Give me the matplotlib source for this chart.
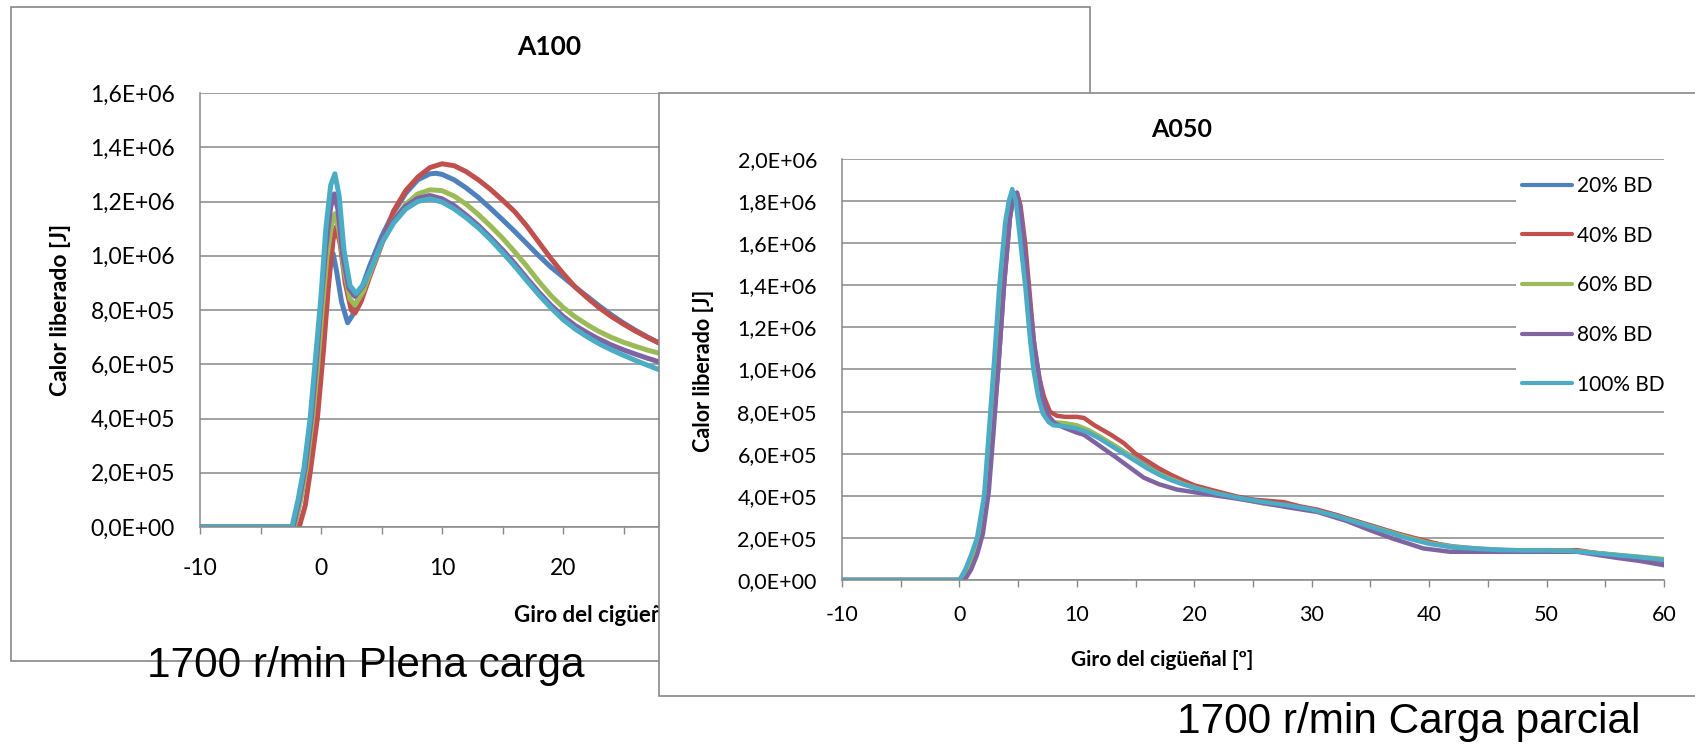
import numpy as np
import matplotlib
matplotlib.use("Agg")
import matplotlib.pyplot as plt
from matplotlib.patches import Rectangle
from matplotlib.ticker import MultipleLocator, FuncFormatter

# Calor liberado frente al giro del cigüeñal, dos gráficos superpuestos
series_labels = ["20% BD", "40% BD", "60% BD", "80% BD", "100% BD"]
series_colors = ["#4F81BD", "#C0504D", "#9BBB59", "#8064A2", "#4BACC6"]

# A100 - plena carga: (grados, calor en MJ)
a100_20 = [(-10, 0), (-2.2, 0), (-1.7, 0.1), (-1.2, 0.22), (-0.7, 0.4), (-0.2, 0.62), (0.3, 0.85),
           (0.7, 0.97), (1.0, 1.008), (1.3, 0.94), (1.7, 0.83), (2.2, 0.753), (2.6, 0.78), (3.2, 0.86),
           (4, 0.96), (5, 1.07), (6, 1.16), (7, 1.23), (8, 1.28), (9, 1.302), (9.5, 1.304), (10, 1.3),
           (11, 1.28), (12, 1.25), (13, 1.215), (14, 1.175), (15, 1.133), (16, 1.09), (17, 1.045),
           (18, 1.0), (19, 0.958), (20, 0.922), (21, 0.885), (22, 0.85), (23, 0.815), (24, 0.782),
           (25, 0.752), (26, 0.725), (27, 0.7), (28, 0.677), (29, 0.656), (30, 0.636)]
a100_40 = [(-10, 0), (-1.8, 0), (-1.3, 0.08), (-0.9, 0.2), (-0.3, 0.4), (0.2, 0.65), (0.6, 0.88),
           (1.0, 1.06), (1.25, 1.106), (1.6, 1.04), (2.0, 0.9), (2.5, 0.8), (2.8, 0.788), (3.3, 0.83),
           (4, 0.92), (5, 1.04), (6, 1.165), (7, 1.24), (8, 1.29), (9, 1.325), (10, 1.339), (11, 1.332),
           (12, 1.31), (13, 1.28), (14, 1.245), (15, 1.205), (16, 1.163), (17, 1.11), (18, 1.05),
           (19, 0.99), (20, 0.935), (21, 0.885), (22, 0.845), (23, 0.808), (24, 0.776), (25, 0.748),
           (26, 0.722), (27, 0.699), (28, 0.677), (29, 0.658), (30, 0.64)]
a100_60 = [(-10, 0), (-2.2, 0), (-1.7, 0.1), (-1.2, 0.22), (-0.7, 0.4), (-0.3, 0.58), (0.1, 0.8),
           (0.5, 1.0), (0.9, 1.12), (1.15, 1.155), (1.5, 1.09), (1.9, 0.95), (2.4, 0.84), (2.8, 0.818),
           (3.5, 0.87), (4, 0.93), (5, 1.045), (6, 1.13), (7, 1.19), (8, 1.228), (9, 1.243), (10, 1.24),
           (11, 1.22), (12, 1.19), (13, 1.152), (14, 1.11), (15, 1.065), (16, 1.015), (17, 0.962),
           (18, 0.905), (19, 0.853), (20, 0.81), (21, 0.775), (22, 0.746), (23, 0.72), (24, 0.699),
           (25, 0.681), (26, 0.666), (27, 0.652), (28, 0.64), (29, 0.628), (30, 0.617)]
a100_80 = [(-10, 0), (-2.3, 0), (-1.8, 0.1), (-1.3, 0.22), (-0.8, 0.4), (-0.4, 0.6), (0.0, 0.82),
           (0.4, 1.03), (0.8, 1.18), (1.1, 1.228), (1.4, 1.17), (1.8, 1.0), (2.3, 0.88), (2.8, 0.85),
           (3.5, 0.89), (4, 0.945), (5, 1.055), (6, 1.13), (7, 1.183), (8, 1.212), (9, 1.222), (10, 1.21),
           (11, 1.185), (12, 1.15), (13, 1.112), (14, 1.068), (15, 1.022), (16, 0.972), (17, 0.918),
           (18, 0.866), (19, 0.818), (20, 0.777), (21, 0.743), (22, 0.716), (23, 0.692), (24, 0.671),
           (25, 0.653), (26, 0.637), (27, 0.622), (28, 0.608), (29, 0.595), (30, 0.583)]
a100_100 = [(-10, 0), (-2.4, 0), (-1.9, 0.1), (-1.4, 0.22), (-0.9, 0.4), (-0.5, 0.6), (0.0, 0.85),
            (0.4, 1.1), (0.8, 1.26), (1.15, 1.302), (1.5, 1.22), (1.9, 1.02), (2.4, 0.89), (2.9, 0.861),
            (3.5, 0.895), (4, 0.94), (5, 1.045), (6, 1.12), (7, 1.172), (8, 1.2), (9, 1.21), (10, 1.198),
            (11, 1.173), (12, 1.14), (13, 1.103), (14, 1.06), (15, 1.012), (16, 0.962), (17, 0.908),
            (18, 0.856), (19, 0.808), (20, 0.765), (21, 0.73), (22, 0.701), (23, 0.675), (24, 0.653),
            (25, 0.633), (26, 0.614), (27, 0.596), (28, 0.579), (29, 0.564), (30, 0.55)]

# A050 - carga parcial: (grados, calor en MJ)
a050_20 = [(-10, 0), (0.2, 0), (0.7, 0.05), (1.2, 0.12), (1.7, 0.21), (2.2, 0.42), (2.6, 0.72),
           (3.0, 1.0), (3.5, 1.4), (4.0, 1.7), (4.4, 1.8), (4.7, 1.83), (5.0, 1.77), (5.4, 1.58),
           (5.8, 1.36), (6.2, 1.12), (6.6, 0.96), (7.0, 0.85), (7.5, 0.77), (8.0, 0.745), (9, 0.74),
           (10, 0.73), (11, 0.71), (12, 0.678), (13, 0.645), (14, 0.61), (15, 0.575), (16, 0.54),
           (17, 0.51), (18, 0.485), (19, 0.462), (20, 0.443), (22, 0.414), (24, 0.39), (26, 0.372),
           (28, 0.356), (30, 0.337), (32, 0.31), (34, 0.277), (36, 0.243), (38, 0.208), (40, 0.178),
           (42, 0.16), (44, 0.15), (46, 0.144), (48, 0.141), (50, 0.14), (52, 0.139), (54, 0.129),
           (56, 0.117), (58, 0.105), (60, 0.09)]
a050_40 = [(-10, 0), (0.4, 0), (0.9, 0.05), (1.4, 0.12), (1.9, 0.22), (2.4, 0.42), (2.9, 0.75),
           (3.3, 1.0), (3.8, 1.4), (4.3, 1.72), (4.6, 1.82), (4.9, 1.84), (5.2, 1.78), (5.6, 1.6),
           (6.0, 1.35), (6.4, 1.1), (6.8, 0.96), (7.2, 0.87), (7.7, 0.8), (8.3, 0.78), (9, 0.775),
           (10, 0.775), (10.6, 0.77), (11.5, 0.735), (12.9, 0.69), (14, 0.65), (15, 0.6), (16, 0.565),
           (17, 0.53), (18, 0.5), (19, 0.474), (20, 0.45), (22, 0.42), (23.6, 0.397), (25, 0.382),
           (27.6, 0.37), (29, 0.35), (30.5, 0.334), (32, 0.31), (34.4, 0.268), (37, 0.225),
           (39.5, 0.189), (41.8, 0.157), (43.5, 0.148), (45.2, 0.142), (48, 0.14), (50, 0.14),
           (52.6, 0.142), (54, 0.13), (56, 0.118), (58, 0.105), (60, 0.094)]
a050_60 = [(-10, 0), (0.3, 0), (0.8, 0.05), (1.3, 0.12), (1.8, 0.21), (2.3, 0.42), (2.7, 0.72),
           (3.1, 1.0), (3.6, 1.4), (4.1, 1.72), (4.4, 1.8), (4.7, 1.83), (5.0, 1.78), (5.4, 1.6),
           (5.8, 1.38), (6.2, 1.13), (6.6, 0.97), (7.0, 0.86), (7.5, 0.78), (8.0, 0.75), (9, 0.745),
           (10, 0.735), (11, 0.712), (12, 0.68), (13, 0.645), (14, 0.61), (15, 0.57), (16, 0.535),
           (17, 0.505), (18, 0.48), (19, 0.458), (20, 0.44), (22, 0.41), (24, 0.385), (26, 0.362),
           (28, 0.35), (30, 0.332), (32, 0.305), (34, 0.272), (36, 0.238), (38, 0.205), (40, 0.175),
           (42, 0.158), (44, 0.148), (46, 0.142), (48, 0.14), (50, 0.14), (52, 0.14), (54, 0.13),
           (56, 0.12), (58, 0.11), (60, 0.1)]
a050_80 = [(-10, 0), (0.45, 0), (1.0, 0.05), (1.5, 0.12), (2.0, 0.22), (2.5, 0.42), (2.9, 0.7),
           (3.3, 1.0), (3.8, 1.4), (4.3, 1.72), (4.6, 1.82), (4.9, 1.84), (5.2, 1.76), (5.5, 1.6),
           (5.85, 1.4), (6.3, 1.15), (6.7, 1.0), (7.1, 0.86), (7.6, 0.78), (8.1, 0.745), (8.9, 0.724),
           (10, 0.7), (10.6, 0.69), (12, 0.635), (13.4, 0.58), (14.5, 0.535), (15.7, 0.486),
           (17, 0.455), (18.5, 0.43), (20, 0.417), (22, 0.4), (23.7, 0.386), (26, 0.365), (28, 0.345),
           (30.5, 0.323), (33, 0.28), (35, 0.236), (37, 0.195), (39.5, 0.15), (41.8, 0.134),
           (45, 0.134), (50, 0.134), (52.6, 0.134), (54, 0.122), (56, 0.105), (58, 0.09), (60, 0.07)]
a050_100 = [(-10, 0), (0.0, 0), (0.5, 0.05), (1.0, 0.12), (1.5, 0.2), (2.1, 0.4), (2.5, 0.7),
            (2.9, 1.0), (3.4, 1.4), (3.9, 1.7), (4.2, 1.8), (4.5, 1.857), (4.8, 1.8), (5.2, 1.6),
            (5.6, 1.4), (6.0, 1.15), (6.3, 1.0), (6.7, 0.87), (7.1, 0.79), (7.6, 0.75), (8.0, 0.735),
            (9, 0.73), (10, 0.72), (11, 0.7), (12, 0.67), (13, 0.635), (14, 0.6), (15, 0.565),
            (16, 0.53), (17, 0.5), (18, 0.475), (19, 0.455), (20, 0.438), (22, 0.41), (24, 0.388),
            (26, 0.37), (28, 0.355), (30, 0.335), (32, 0.305), (34, 0.27), (36, 0.235), (38, 0.2),
            (40, 0.172), (42, 0.155), (44, 0.148), (46, 0.142), (48, 0.14), (50, 0.14), (52, 0.138),
            (54, 0.128), (56, 0.118), (58, 0.108), (60, 0.095)]

a100_series = [a100_20, a100_40, a100_60, a100_80, a100_100]
a050_series = [a050_20, a050_40, a050_60, a050_80, a050_100]

W, H = 1695, 744
GRAY = "#888888"

plt.rcParams['font.family'] = ['Lato', 'DejaVu Sans']
plt.rcParams['axes.unicode_minus'] = False


def px_rect(x0, y0, x1, y1):
    """Pixel box (top-left origin) -> figure fraction rect"""
    return [x0 / W, 1 - y1 / H, (x1 - x0) / W, (y1 - y0) / H]


def sci_comma(v, pos):
    return f"{v:.1E}".replace(".", ",")


def draw_chart(ax, series, ymax, title, fs, lw, title_xy, ylabel_xy, xlabel_xy, xpad, legend_xy,
               last_xlabel=60):
    for data, color, label in zip(series, series_colors, series_labels):
        deg, mj = zip(*data)
        ax.plot(deg, np.array(mj) * 1e6, color=color, lw=lw, label=label,
                solid_joinstyle='round', solid_capstyle='round')

    ax.set_xlim(-10, 60)
    ax.set_ylim(0, ymax)
    ax.xaxis.set_major_locator(MultipleLocator(10))
    ax.xaxis.set_minor_locator(MultipleLocator(5))
    # labels hidden behind the other chart are left empty
    ax.xaxis.set_major_formatter(FuncFormatter(lambda v, pos: f"{v:.0f}" if v <= last_xlabel else ""))
    ax.yaxis.set_major_locator(MultipleLocator(2e5))
    ax.yaxis.set_major_formatter(FuncFormatter(sci_comma))
    ax.tick_params(axis='x', which='both', direction='out', length=5, width=1, color=GRAY,
                   labelsize=fs, pad=xpad)
    ax.tick_params(axis='y', length=0, labelsize=fs, pad=18)
    ax.yaxis.grid(True, color=GRAY, lw=1.1)
    ax.set_axisbelow(True)
    for side in ['top', 'right']:
        ax.spines[side].set_visible(False)
    for side in ['left', 'bottom']:
        ax.spines[side].set_color(GRAY)
        ax.spines[side].set_linewidth(1.1)

    ax.text(title_xy[0], title_xy[1], title, transform=ax.transAxes, ha='center', va='center',
            fontsize=fs + 2.5, fontweight='bold')
    ax.set_ylabel("Calor liberado [J]", fontsize=fs, fontweight='bold')
    ax.yaxis.label.set_va('center')
    ax.yaxis.set_label_coords(*ylabel_xy)
    ax.set_xlabel("Giro del cigüeñal [º]", fontsize=fs - 0.5, fontweight='bold')
    ax.xaxis.label.set_va('center')
    ax.xaxis.set_label_coords(*xlabel_xy)

    leg = ax.legend(loc='upper left', bbox_to_anchor=legend_xy, frameon=True, fancybox=False,
                    framealpha=1, facecolor='white', edgecolor='none', fontsize=15,
                    handlelength=2.4, handletextpad=0.25, labelspacing=1.42, borderpad=0.3,
                    borderaxespad=0)
    for line in leg.get_lines():
        line.set_linewidth(3)


fig = plt.figure(figsize=(W / 100, H / 100), dpi=100)
fig.patch.set_facecolor('white')

# left chart (A100), partly hidden by the right one
fig.add_artist(Rectangle((11 / W, 1 - 661 / H), (1090 - 11) / W, (661 - 7) / H,
                         transform=fig.transFigure, facecolor='white', edgecolor=GRAY,
                         lw=1.2, zorder=0))
ax1 = fig.add_axes(px_rect(200, 93, 1047, 527), zorder=1)
draw_chart(ax1, a100_series, 1.6e6, "A100", fs=16.5, lw=3.6,
           title_xy=(0.412, 1.106), ylabel_xy=(-0.165, 0.5), xlabel_xy=(0.485, -0.203),
           xpad=17, legend_xy=(0.82, 0.975), last_xlabel=20)

# right chart (A050) on top
fig.add_artist(Rectangle((659 / W, 1 - 696 / H), (1703 - 659) / W, (696 - 93) / H,
                         transform=fig.transFigure, facecolor='white', edgecolor=GRAY,
                         lw=1.2, zorder=2))
ax2 = fig.add_axes(px_rect(842, 159, 1664, 580), zorder=3)
draw_chart(ax2, a050_series, 2.0e6, "A050", fs=15.5, lw=3.2,
           title_xy=(0.413, 1.07), ylabel_xy=(-0.169, 0.496), xlabel_xy=(0.39, -0.19),
           xpad=13, legend_xy=(0.82, 0.974))

fig.text(147 / W, 1 - 677 / H, "1700 r/min Plena carga", family='Liberation Sans',
         fontsize=30.5, ha='left', va='baseline', zorder=5)
fig.text(1177 / W, 1 - 733 / H, "1700 r/min Carga parcial", family='Liberation Sans',
         fontsize=30.5, ha='left', va='baseline', zorder=5)

fig.savefig("out.png", dpi=100)
print("Saved out.png")
